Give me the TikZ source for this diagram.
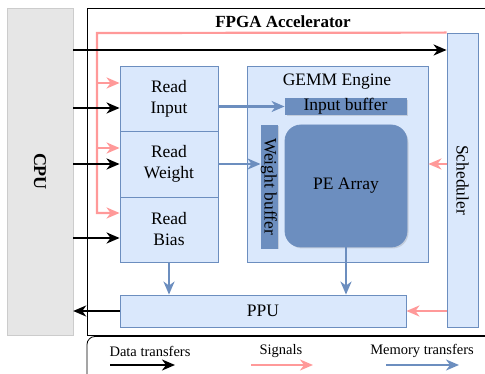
\documentclass[tikz,border=0pt]{standalone}
\usepackage{fontspec}
\setmainfont{Liberation Serif}
\usetikzlibrary{arrows.meta,shadows}

\definecolor{boxfill}{HTML}{DAE8FC}
\definecolor{boxline}{HTML}{6C8EBF}
\definecolor{darkfill}{HTML}{6C8EBF}
\definecolor{sigred}{HTML}{FF9999}
\definecolor{hostgray}{HTML}{E6E6E6}
\definecolor{hostline}{HTML}{CCCCCC}

\begin{document}
\begin{tikzpicture}
  [x=1pt,y=-1pt,inner sep=0pt,
   font=\fontsize{17.5}{21}\selectfont,
   block/.style={rectangle,draw=boxline,fill=boxfill,line width=0.8pt,align=center},
   buffer/.style={rectangle,draw=boxline,fill=darkfill,line width=0.8pt,
     drop shadow={opacity=0.25,shadow xshift=1.5pt,shadow yshift=-1.5pt}},
   data/.style={draw=black,line width=2.2pt,-{Stealth[length=13pt,width=11pt,inset=4pt]}},
   sig/.style={draw=sigred,line width=2.2pt,-{Stealth[length=13pt,width=11pt,inset=4pt]}},
   mem/.style={draw=boxline,line width=2.2pt,-{Stealth[length=13pt,width=11pt,inset=4pt]}},
   legtext/.style={font=\fontsize{14.5}{17}\selectfont}]
  \useasboundingbox (0,0) rectangle (485,374);
  % host and accelerator frames
  \node at (40,171.5) (cpu) [rectangle,draw=hostline,fill=hostgray,minimum width=66,minimum height=327] {};
  \node at (40,171.5) [rotate=-90,font=\fontsize{18}{21}\selectfont\bfseries] {CPU};
  \node at (287,171.5) (fpga) [rectangle,draw,line width=0.8pt,minimum width=400,minimum height=327] {};
  \node at (283,22) (title) [font=\fontsize{17}{20}\selectfont\bfseries] {FPGA Accelerator};
  \draw [line width=0.8pt,rounded corners=8] (87,376) -- (87,336.5) -- (487,336.5);
  % readers
  \node at (169,98.5) (rin) [block,minimum width=98,minimum height=65] {Read\\Input};
  \node at (169,164) (rwt) [block,minimum width=98,minimum height=66] {Read\\Weight};
  \node at (169,229.5) (rbias) [block,minimum width=98,minimum height=65] {Read\\Bias};
  % GEMM engine
  \node at (337.5,164) (gemm) [block,minimum width=181,minimum height=196] {};
  \node at (337,82) (gemmlabel) {GEMM Engine};
  \node at (345.5,106.5) (ibuf) [buffer,minimum width=121,minimum height=15] {Input buffer};
  \node at (269,186.5) (wbuf) [buffer,minimum width=16,minimum height=123] {};
  \node at (269,186.5) [rotate=-90] {Weight buffer};
  \node at (346,186) (pe) [buffer,rounded corners=16,minimum width=122,minimum height=122] {PE Array};
  % post processing and scheduler
  \node at (263,311) (ppu) [block,minimum width=286,minimum height=32] {PPU};
  \node at (462.5,180) (sched) [block,minimum width=31,minimum height=294] {};
  \node at (462.5,180) [rotate=-90] {Scheduler};
  % signal bus
  \coordinate (bus) at (97,33);
  \coordinate (s1) at (97,83);
  \coordinate (s2) at (97,148);
  \coordinate (s3) at (97,213);
  \draw [sig] (sched.north west) -- (bus) -- (s3) -- (s3 -| rbias.west);
  \draw [sig] (s1) -- (s1 -| rin.west);
  \draw [sig] (s2) -- (s2 -| rwt.west);
  \draw [sig] (gemm.east -| sched.west) -- (gemm.east);
  \draw [sig] (ppu.east -| sched.west) -- (ppu.east);
  % data transfers
  \coordinate (d0) at (73,50);
  \coordinate (d1) at (73,108);
  \coordinate (d2) at (73,164);
  \coordinate (d3) at (73,238);
  \draw [data] (d0) -- (d0 -| sched.west);
  \draw [data] (d1) -- (d1 -| rin.west);
  \draw [data] (d2) -- (d2 -| rwt.west);
  \draw [data] (d3) -- (d3 -| rbias.west);
  \draw [data] (ppu.west) -- (ppu.west -| cpu.east);
  % memory transfers
  \draw [mem] (ibuf.west -| rin.east) -- (ibuf.west);
  \draw [mem] (rwt.east) -- (rwt.east -| wbuf.west);
  \draw [mem] (rbias.south) -- (rbias.south |- ppu.north);
  \draw [mem] (pe.south) -- (pe.south |- ppu.north);
  % legend
  \node at (150,351) (ldata) [legtext] {Data transfers};
  \node at (281,351) (lsig) [legtext] {Signals};
  \node at (422,351) (lmem) [legtext] {Memory transfers};
  \coordinate (la) at (110,365);
  \coordinate (lb) at (175,365);
  \coordinate (lc) at (251,365);
  \coordinate (ld) at (313,365);
  \coordinate (le) at (386,365);
  \coordinate (lf) at (459,365);
  \draw [data] (la) -- (lb);
  \draw [sig] (lc) -- (ld);
  \draw [mem] (le) -- (lf);
\end{tikzpicture}
\end{document}
